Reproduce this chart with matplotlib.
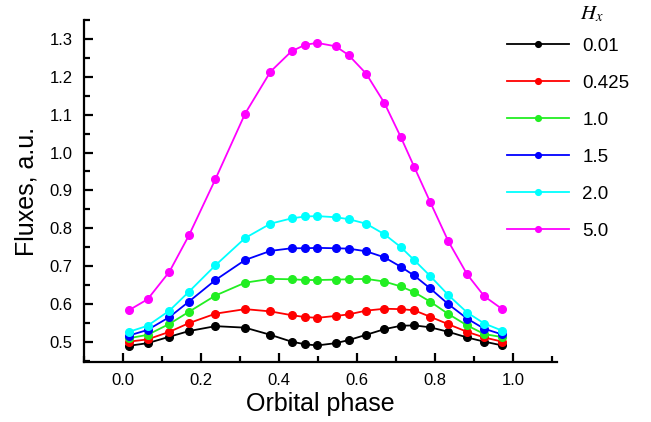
import matplotlib
matplotlib.use("Agg")
import matplotlib.pyplot as plt
from matplotlib.ticker import MultipleLocator, FormatStrFormatter

plt.rcParams['font.family'] = ['Liberation Sans', 'DejaVu Sans']
plt.rcParams['mathtext.fontset'] = 'stix'

# orbital phase of the computed points
phase = [0.015, 0.063, 0.119, 0.169, 0.237, 0.313, 0.378, 0.432, 0.467, 0.498,
         0.545, 0.578, 0.623, 0.670, 0.712, 0.746, 0.787, 0.834, 0.882, 0.926, 0.972]

# fluxes for each Hx value
flux_001 = [0.489, 0.496, 0.513, 0.528, 0.541, 0.537, 0.518, 0.500, 0.493, 0.490,
            0.496, 0.504, 0.518, 0.533, 0.542, 0.543, 0.538, 0.526, 0.511, 0.500, 0.490]
flux_0425 = [0.500, 0.506, 0.526, 0.549, 0.574, 0.586, 0.580, 0.570, 0.565, 0.563,
             0.568, 0.572, 0.582, 0.587, 0.586, 0.583, 0.566, 0.546, 0.526, 0.511, 0.500]
flux_10 = [0.509, 0.518, 0.547, 0.579, 0.622, 0.656, 0.666, 0.665, 0.663, 0.663,
           0.664, 0.665, 0.666, 0.659, 0.646, 0.631, 0.606, 0.573, 0.543, 0.520, 0.512]
flux_15 = [0.516, 0.531, 0.565, 0.606, 0.663, 0.716, 0.740, 0.747, 0.747, 0.748,
           0.747, 0.746, 0.739, 0.723, 0.698, 0.675, 0.641, 0.599, 0.561, 0.534, 0.519]
flux_20 = [0.526, 0.542, 0.582, 0.632, 0.702, 0.774, 0.812, 0.826, 0.831, 0.832,
           0.829, 0.824, 0.812, 0.784, 0.750, 0.716, 0.674, 0.623, 0.577, 0.548, 0.529]
flux_50 = [0.583, 0.612, 0.685, 0.781, 0.930, 1.103, 1.214, 1.268, 1.285, 1.290,
           1.281, 1.258, 1.209, 1.131, 1.041, 0.963, 0.870, 0.765, 0.678, 0.620, 0.586]

labels = ['0.01', '0.425', '1.0', '1.5', '2.0', '5.0']
series = [flux_001, flux_0425, flux_10, flux_15, flux_20, flux_50]
colors = ['#000000', '#ff0000', '#22ee22', '#0000ff', '#00ffff', '#ff00ff']

fig = plt.figure(figsize=(6.51, 4.22), dpi=100)
ax = fig.add_axes([0.129, 0.142, 0.727, 0.811])

for y, lab, c in zip(series, labels, colors):
    ax.plot(phase, y, '-o', color=c, lw=1.3, ms=5.5, label=lab)

ax.set_xlim(-0.1, 1.113)
ax.set_ylim(0.446, 1.351)
ax.xaxis.set_major_locator(MultipleLocator(0.2))
ax.xaxis.set_minor_locator(MultipleLocator(0.1))
ax.yaxis.set_major_locator(MultipleLocator(0.1))
ax.yaxis.set_minor_locator(MultipleLocator(0.05))
ax.xaxis.set_major_formatter(FormatStrFormatter('%.1f'))
ax.yaxis.set_major_formatter(FormatStrFormatter('%.1f'))

ax.spines['top'].set_visible(False)
ax.spines['right'].set_visible(False)
for s in ['left', 'bottom']:
    ax.spines[s].set_linewidth(1.6)
ax.tick_params(which='major', direction='in', length=6.5, width=1.6, labelsize=12, pad=8)
ax.tick_params(which='minor', direction='in', length=4, width=1.6)

ax.set_xlabel('Orbital phase', fontsize=18, labelpad=3)
ax.set_ylabel('Fluxes, a.u.', fontsize=18, labelpad=8)

leg = ax.legend(loc='upper left', bbox_to_anchor=(0.859, 0.998), frameon=False,
                fontsize=13.5, handlelength=3.3, handletextpad=0.7,
                labelspacing=1.06, markerscale=0.75)

fig.text(0.891, 0.967, '$\\mathit{H}_{x}$', fontsize=15, ha='left', va='center')

fig.savefig('out.png', dpi=100)
